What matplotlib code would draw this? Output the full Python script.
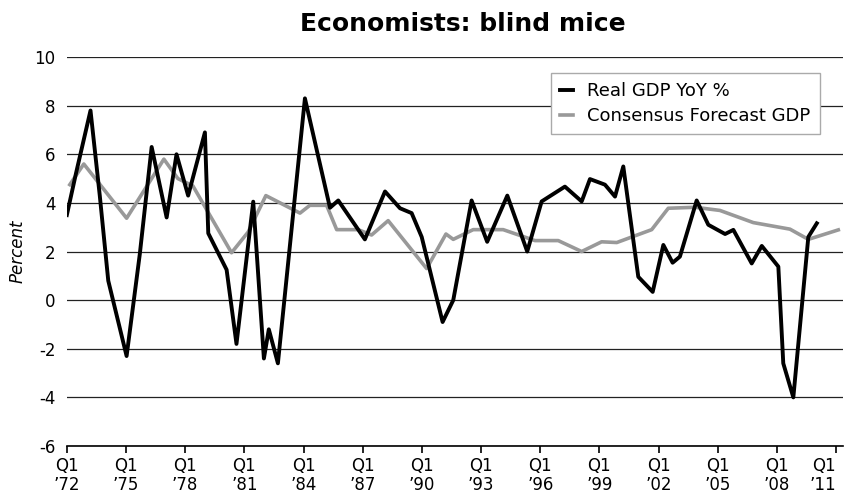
import matplotlib
matplotlib.use("Agg")
import matplotlib.pyplot as plt

# Real GDP YoY % (decimal year, value)
gdp_years = [1972.0, 1972.46, 1973.2, 1973.67, 1974.1, 1975.03, 1975.7, 1976.3, 1977.06, 1977.56,
             1978.15, 1979.0, 1979.17, 1980.1, 1980.6, 1981.45, 1981.99, 1982.24, 1982.7, 1984.07,
             1985.34, 1985.76, 1987.11, 1988.13, 1988.89, 1989.48, 1989.99, 1991.05, 1991.59, 1992.52,
             1993.31, 1994.33, 1995.34, 1996.07, 1997.25, 1998.1, 1998.52, 1999.28, 1999.79, 2000.21,
             2000.97, 2001.7, 2002.24, 2002.71, 2003.08, 2003.93, 2004.52, 2005.37, 2005.79, 2006.72,
             2007.23, 2008.07, 2008.32, 2008.83, 2009.59, 2010.02]
gdp_values = [3.5, 5.2, 7.8, 4.3, 0.8, -2.3, 1.9, 6.3, 3.4, 6.0,
              4.3, 6.9, 2.75, 1.25, -1.8, 4.05, -2.4, -1.2, -2.6, 8.3,
              3.8, 4.1, 2.5, 4.47, 3.78, 3.58, 2.6, -0.9, 0.0, 4.1,
              2.4, 4.3, 2.0, 4.06, 4.67, 4.06, 4.98, 4.75, 4.26, 5.5,
              0.96, 0.34, 2.27, 1.54, 1.79, 4.1, 3.1, 2.72, 2.89, 1.51,
              2.23, 1.38, -2.6, -4.0, 2.6, 3.16]

# Consensus forecast GDP
fc_years = [1972.15, 1972.86, 1975.03, 1976.92, 1977.63, 1978.39, 1980.35, 1981.19, 1982.09, 1983.82,
            1984.32, 1985.17, 1985.68, 1986.77, 1987.45, 1988.29, 1990.24, 1991.22, 1991.59, 1992.6,
            1994.12, 1995.73, 1996.91, 1998.1, 1999.11, 1999.88, 2001.65, 2002.49, 2003.85, 2005.11,
            2006.8, 2008.66, 2009.59, 2011.11]
fc_values = [4.75, 5.6, 3.37, 5.8, 5.0, 4.7, 1.95, 2.8, 4.3, 3.58,
             3.9, 3.9, 2.9, 2.9, 2.68, 3.27, 1.3, 2.72, 2.5, 2.9,
             2.9, 2.45, 2.45, 2.0, 2.4, 2.37, 2.9, 3.78, 3.82, 3.69,
             3.19, 2.92, 2.5, 2.89]

tick_years = [1972, 1975, 1978, 1981, 1984, 1987, 1990, 1993, 1996, 1999, 2002, 2005, 2008, 2011]
tick_labels = ["Q1\n\u2019%02d" % (y % 100) for y in tick_years]

plt.rcParams['font.family'] = ['DejaVu Sans']
plt.rcParams['axes.unicode_minus'] = False

fig = plt.figure(figsize=(8.46, 4.96), dpi=100)
ax = fig.add_axes([0.079, 0.1008, 0.9175, 0.7842])

ax.plot(gdp_years, gdp_values, color='black', lw=2.8, label='Real GDP YoY %', zorder=3)
ax.plot(fc_years, fc_values, color='#999999', lw=2.6, label='Consensus Forecast GDP', zorder=2)

ax.set_xlim(1972, 2011.35)
ax.set_ylim(-6, 10)
ax.set_yticks(range(-6, 11, 2))
ax.set_xticks(tick_years)
ax.set_xticklabels(tick_labels, fontsize=12, linespacing=1.05)
ax.tick_params(axis='y', length=0, labelsize=12, pad=8)
ax.tick_params(axis='x', length=5, width=1.2, color='black', pad=3)
ax.grid(axis='y', color='#222222', lw=0.9)
ax.set_axisbelow(True)
for s in ['top', 'right', 'left']:
    ax.spines[s].set_visible(False)
ax.spines['bottom'].set_linewidth(1.2)

# last label sits at the right edge, nudge it left so it stays on the canvas
ax.get_xticklabels()[-1].set_horizontalalignment('right')
ax.get_xticklabels()[-1].set_x(2011.5)

ax.set_ylabel('Percent', fontstyle='italic', fontsize=12, labelpad=6)
fig.text(0.547, 0.9375, 'Economists: blind mice', fontsize=18, fontweight='bold',
         ha='center', va='baseline')

leg = ax.legend(loc='upper right', bbox_to_anchor=(0.970, 0.959), borderaxespad=0, fontsize=13,
                fancybox=False, edgecolor='#aaaaaa', framealpha=1, handlelength=0.7,
                handletextpad=0.8, borderpad=0.5, labelspacing=0.4)
leg.get_frame().set_linewidth(1.0)

fig.savefig('out.png', dpi=100)
